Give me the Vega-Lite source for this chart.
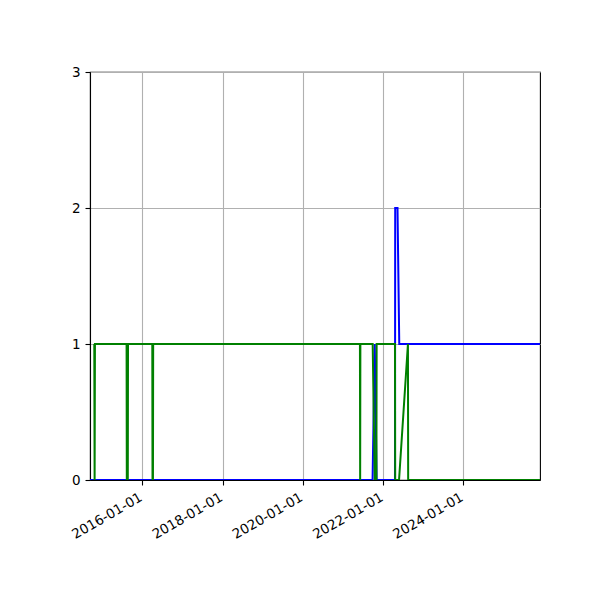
{
  "$schema": "https://vega.github.io/schema/vega-lite/v6.json",
  "width": 450,
  "height": 408,
  "autosize": {"type": "none"},
  "padding": {"left": 90, "top": 72, "right": 60, "bottom": 120},
  "background": "white",
  "data": {
    "values": [
      {"date": "2014-09-12", "series": "a", "value": 0},
      {"date": "2021-09-27", "series": "a", "value": 0},
      {"date": "2021-10-17", "series": "a", "value": 1},
      {"date": "2021-11-03", "series": "a", "value": 0},
      {"date": "2022-04-19", "series": "a", "value": 0},
      {"date": "2022-04-21", "series": "a", "value": 2},
      {"date": "2022-05-12", "series": "a", "value": 2},
      {"date": "2022-05-28", "series": "a", "value": 1},
      {"date": "2025-11-29", "series": "a", "value": 1},
      {"date": "2014-10-21", "series": "b", "value": 1},
      {"date": "2014-10-24", "series": "b", "value": 0},
      {"date": "2014-10-27", "series": "b", "value": 1},
      {"date": "2015-08-11", "series": "b", "value": 1},
      {"date": "2015-08-13", "series": "b", "value": 0},
      {"date": "2015-08-22", "series": "b", "value": 0},
      {"date": "2015-08-24", "series": "b", "value": 1},
      {"date": "2016-04-01", "series": "b", "value": 1},
      {"date": "2016-04-03", "series": "b", "value": 0},
      {"date": "2016-04-07", "series": "b", "value": 0},
      {"date": "2016-04-09", "series": "b", "value": 1},
      {"date": "2021-06-04", "series": "b", "value": 1},
      {"date": "2021-06-06", "series": "b", "value": 0},
      {"date": "2021-06-08", "series": "b", "value": 1},
      {"date": "2021-09-28", "series": "b", "value": 1},
      {"date": "2021-10-17", "series": "b", "value": 0},
      {"date": "2021-11-01", "series": "b", "value": 0},
      {"date": "2021-11-03", "series": "b", "value": 1},
      {"date": "2022-04-19", "series": "b", "value": 1},
      {"date": "2022-04-21", "series": "b", "value": 0},
      {"date": "2022-05-26", "series": "b", "value": 0},
      {"date": "2022-08-15", "series": "b", "value": 1},
      {"date": "2022-08-17", "series": "b", "value": 0},
      {"date": "2025-11-29", "series": "b", "value": 0}
    ]
  },
  "mark": {"type": "line", "strokeWidth": 2, "clip": true},
  "encoding": {
    "x": {
      "field": "date",
      "type": "temporal",
      "scale": {
        "type": "utc",
        "nice": false,
        "domain": [
          {"year": 2014, "month": 9, "date": 12, "utc": true},
          {"year": 2025, "month": 11, "date": 29, "utc": true}
        ]
      },
      "axis": {
        "title": null,
        "values": [
          {"year": 2016, "month": 1, "date": 1, "utc": true},
          {"year": 2018, "month": 1, "date": 1, "utc": true},
          {"year": 2020, "month": 1, "date": 1, "utc": true},
          {"year": 2022, "month": 1, "date": 1, "utc": true},
          {"year": 2024, "month": 1, "date": 1, "utc": true}
        ],
        "format": "%Y-%m-%d",
        "labelAngle": -30,
        "labelAlign": "right",
        "labelBaseline": "top",
        "labelOffset": -5,
        "labelPadding": 5
      }
    },
    "y": {
      "field": "value",
      "type": "quantitative",
      "scale": {"domain": [0, 3], "nice": false},
      "axis": {"title": null, "values": [0, 1, 2, 3], "format": "d", "labelPadding": 5}
    },
    "color": {
      "field": "series",
      "type": "nominal",
      "scale": {"domain": ["a", "b"], "range": ["#0000ff", "#008000"]},
      "legend": null
    }
  },
  "config": {
    "view": {"stroke": "black", "strokeWidth": 1.1},
    "axis": {
      "domainColor": "black",
      "domainWidth": 1.1,
      "tickColor": "black",
      "tickWidth": 1.1,
      "tickSize": 5,
      "grid": true,
      "gridColor": "#b0b0b0",
      "gridWidth": 1.1,
      "labelFont": "DejaVu Sans",
      "labelFontSize": 13.5,
      "labelColor": "black",
      "labelFlush": false,
      "labelOverlap": false
    }
  }
}
